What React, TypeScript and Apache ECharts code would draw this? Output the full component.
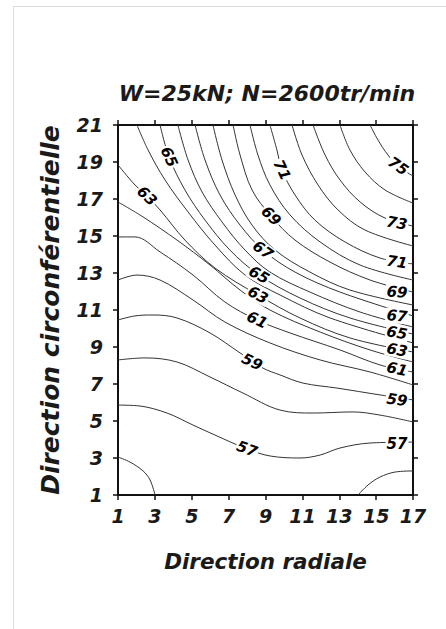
import React, { useEffect, useRef } from "react";
import * as echarts from "echarts";

const FONT = '"DejaVu Sans", "Liberation Sans", sans-serif';
const TITLE = "W=25kN; N=2600tr/min";
const X_NAME = "Direction radiale";
const Y_NAME = "Direction circonférentielle";
const X_TICKS = [1, 3, 5, 7, 9, 11, 13, 15, 17];
const Y_TICKS = [1, 3, 5, 7, 9, 11, 13, 15, 17, 19, 21];

// contour lines: [radial, circumferential]
const c56a = [[1, 3.05], [1.65, 2.78], [2.36, 2.3], [2.74, 1.81], [3.01, 1.0]];
const c56b = [[14.02, 1.0], [14.56, 1.54], [15.21, 1.97], [16.02, 2.24], [17, 2.3]];
const c57 = [[1, 5.86], [2.19, 5.81], [3.66, 5.43], [5.07, 4.78], [6.26, 4.24], [8.0, 3.49], [9.24, 3.11], [10.87, 3.0], [11.96, 3.16], [13.04, 3.54], [14.67, 3.81], [17, 3.86]];
const c58 = [[1, 8.3], [2.46, 8.41], [4.2, 8.19], [5.99, 7.38], [7.78, 6.51], [9.79, 5.59], [11.58, 5.43], [13.75, 5.49], [15.21, 5.32], [17, 4.95]];
const c59 = [[1, 10.46], [1.92, 10.68], [2.9, 10.73], [4.2, 10.57], [5.99, 9.76], [7.62, 8.68], [8.86, 7.86], [9.79, 7.49], [11.03, 7.05], [12.88, 6.78], [15.21, 6.41], [17, 6.14]];
const c60 = [[1, 12.62], [2.03, 12.89], [3.28, 12.62], [5.07, 11.54], [6.8, 10.35], [9.24, 9.22], [11.96, 8.3], [14.67, 7.65], [17, 6.95]];
const c61 = [[1, 14.95], [1.92, 14.95], [3.28, 14.14], [5.07, 12.89], [6.8, 11.43], [8.54, 10.46], [10.33, 9.76], [13.04, 8.84], [15.21, 8.03], [17, 7.65]];
const c62 = [[1, 16.84], [2.36, 16.03], [4.2, 14.78], [5.99, 13.43], [7.62, 12.08], [9.24, 11.0], [11.96, 9.81], [14.67, 8.84], [17, 8.19]];
const c63 = [[1, 18.84], [1.92, 17.76], [2.57, 17.16], [3.28, 16.41], [4.63, 14.78], [6.26, 13.27], [8.59, 11.81], [10.87, 10.57], [13.58, 9.49], [17, 8.73]];
const c64 = [[2.03, 21], [2.63, 19.65], [3.55, 18.03], [4.8, 16.3], [6.26, 14.51], [7.89, 12.89], [9.79, 11.81], [12.5, 10.57], [17, 9.22]];
const c65 = [[3.28, 21], [3.77, 19.27], [4.63, 17.49], [5.72, 15.86], [7.07, 14.24], [8.65, 12.89], [10.87, 11.65], [13.58, 10.57], [17, 9.7]];
const c66 = [[4.25, 21], [4.8, 19.11], [5.56, 17.38], [6.64, 15.76], [7.89, 14.24], [9.24, 13.05], [11.41, 11.97], [14.13, 10.89], [17, 10.08]];
const c67 = [[5.18, 21], [5.72, 19.11], [6.53, 17.22], [7.62, 15.59], [8.86, 14.24], [10.6, 13.05], [13.04, 11.97], [17, 10.68]];
const c68 = [[6.15, 21], [6.64, 19.11], [7.35, 17.22], [8.27, 15.59], [9.52, 14.24], [11.41, 13.05], [13.58, 12.08], [17, 11.27]];
const c69 = [[7.24, 21], [7.62, 19.38], [8.27, 17.49], [9.3, 16.08], [10.6, 14.78], [12.5, 13.59], [14.67, 12.62], [17, 11.97]];
const c70 = [[8.16, 21], [8.59, 19.38], [9.24, 17.76], [10.33, 16.14], [11.96, 14.68], [14.13, 13.43], [17, 12.62]];
const c71 = [[9.24, 21], [9.62, 19.65], [9.89, 18.57], [10.6, 17.22], [11.68, 15.86], [13.31, 14.68], [15.21, 13.81], [17, 13.49]];
const c72 = [[10.44, 21], [10.98, 19.38], [11.85, 17.76], [12.93, 16.41], [14.4, 15.32], [17, 14.46]];
const c73 = [[11.58, 21], [12.23, 19.38], [13.04, 18.03], [14.13, 16.84], [15.48, 15.97], [17, 15.54]];
const c74 = [[13.04, 21], [13.58, 19.65], [14.4, 18.46], [15.48, 17.49], [17, 16.78]];
const c75 = [[14.67, 21], [15.1, 20.19], [15.64, 19.38], [16.19, 18.78], [17, 18.24]];

const contourLines = [c56a, c56b, c57, c58, c59, c60, c61, c62, c63, c64, c65, c66, c67, c68, c69, c70, c71, c72, c73, c74, c75];

// contour labels: [radial, circumferential, level]
const contourLabels = [
  [16.19, 18.78, 75], [16.13, 15.7, 73], [16.13, 13.59, 71], [16.13, 11.97, 69],
  [16.13, 10.68, 67], [16.13, 9.76, 65], [16.13, 8.84, 63], [16.13, 7.81, 61],
  [16.13, 6.14, 59], [16.13, 3.76, 57],
  [9.89, 18.57, 71], [9.3, 16.08, 69], [8.86, 14.24, 67], [8.65, 12.89, 65],
  [8.59, 11.81, 63], [8.54, 10.46, 61], [8.27, 8.19, 59], [8.0, 3.49, 57],
  [3.77, 19.27, 65], [2.57, 17.16, 63],
];
const labelAngles = [-35, -10, -8, -5, -5, -10, -12, -12, -8, 0, -65, -45, -35, -30, -28, -25, -25, -20, -65, -45];

const boldItalic = { fontFamily: FONT, fontWeight: "bold" as const, fontStyle: "italic" as const, color: "#1a1a1a" };

function axisCommon(ticks: number[], min: number, max: number) {
  return {
    type: "value" as const,
    min,
    max,
    interval: 2,
    axisLine: { show: true, onZero: false, lineStyle: { color: "#111", width: 2 } },
    axisTick: { show: true, inside: false, length: 5, customValues: ticks, lineStyle: { color: "#111", width: 1.5 } },
    splitLine: { show: false },
  };
}

export default function App() {
  const ref = useRef<HTMLDivElement>(null);
  useEffect(() => {
    document.body.style.margin = "0";
    const chart = echarts.init(ref.current!, null, { renderer: "svg" });
    const lineSeries = contourLines.map((pts) => ({
      type: "line",
      data: pts,
      smooth: 0.35,
      showSymbol: false,
      symbol: "none",
      silent: true,
      lineStyle: { color: "#333", width: 1 },
      z: 2,
    }));
    chart.setOption({
      animation: false,
      backgroundColor: "#fff",
      title: {
        text: TITLE,
        left: 262,
        top: 77,
        textAlign: "center",
        textStyle: { ...boldItalic, fontSize: 22 },
      },
      graphic: [
        {
          type: "rect",
          shape: { x: 13.5, y: 6.5, width: 600, height: 800 },
          style: { fill: "none", stroke: "#dcdcdc", lineWidth: 1 },
          silent: true,
        },
      ],
      grid: { left: 118, top: 125, width: 295, height: 370 },
      xAxis: [
        {
          ...axisCommon(X_TICKS, 1, 17),
          position: "bottom",
          name: X_NAME,
          nameLocation: "middle",
          nameGap: 55,
          nameTextStyle: { ...boldItalic, fontSize: 21.5 },
          axisLabel: { show: true, customValues: X_TICKS, margin: 11, ...boldItalic, fontSize: 19 },
        },
        {
          ...axisCommon(X_TICKS, 1, 17),
          position: "top",
          axisLabel: { show: false },
        },
      ],
      yAxis: [
        {
          ...axisCommon(Y_TICKS, 1, 21),
          position: "left",
          name: Y_NAME,
          nameLocation: "middle",
          nameGap: 55,
          nameRotate: 90,
          nameTextStyle: { ...boldItalic, fontSize: 25 },
          axisLabel: { show: true, customValues: Y_TICKS, margin: 15, ...boldItalic, fontSize: 19 },
        },
        {
          ...axisCommon(Y_TICKS, 1, 21),
          position: "right",
          axisLabel: { show: false },
        },
      ],
      series: [
        ...lineSeries,
        {
          type: "scatter",
          silent: true,
          symbolSize: 2,
          itemStyle: { color: "rgba(0,0,0,0)" },
          z: 5,
          data: contourLabels.map((d, i) => ({ value: d, label: { rotate: labelAngles[i] } })),
          label: {
            show: true,
            position: "inside",
            formatter: (p: any) => String(p.value[2]),
            fontFamily: FONT,
            fontWeight: "bold",
            fontStyle: "italic",
            fontSize: 15,
            color: "#000",
            opacity: 1,
            backgroundColor: "#fff",
            padding: [0, 1],
          },
        },
      ],
    });
    return () => chart.dispose();
  }, []);
  return <div ref={ref} style={{ width: 446, height: 629 }} />;
}
